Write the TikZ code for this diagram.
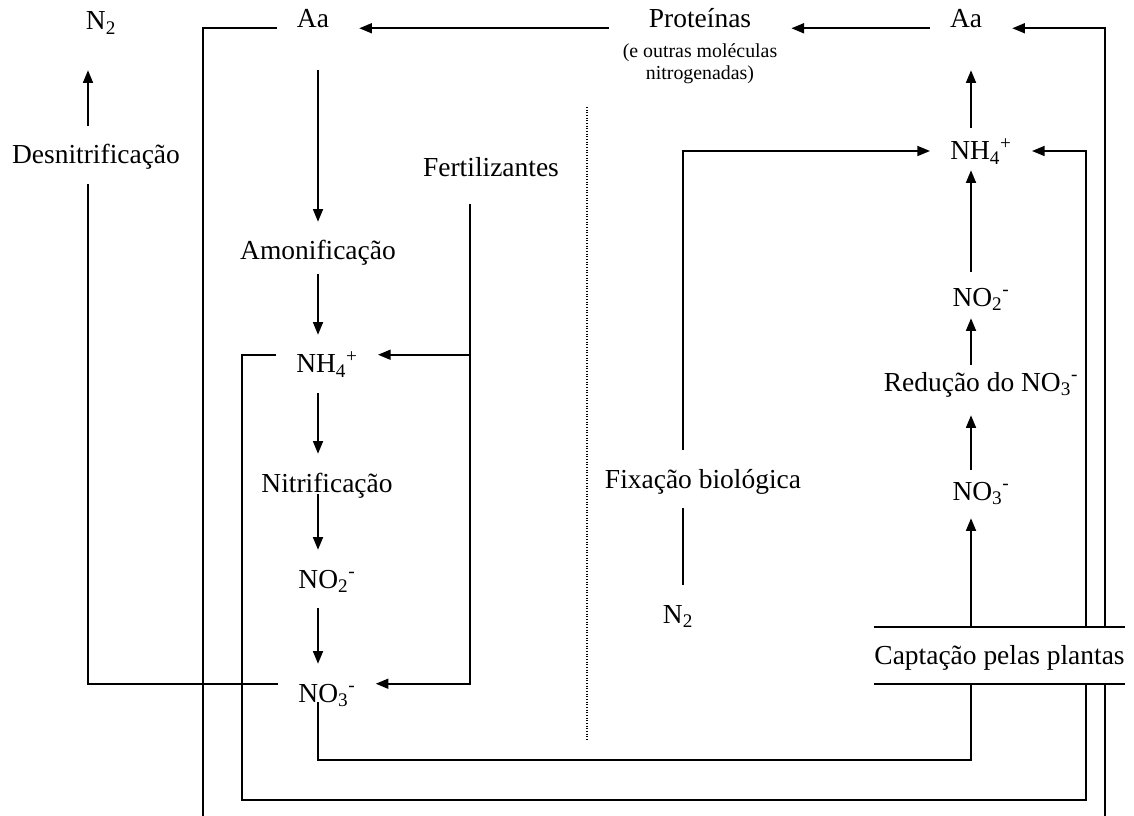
\documentclass[tikz,border=0pt]{standalone}
\usepackage{fontspec}
\setmainfont{Liberation Serif}
\usetikzlibrary{arrows.meta, calc}

\begin{document}
\begin{tikzpicture}[
    x=0.75pt, y=-0.75pt,
    txt/.style={font=\fontsize{20.6}{24}\selectfont, inner sep=0pt, text height=13.5pt, text depth=0pt, anchor=base},
    note/.style={font=\fontsize{14.9}{16.5}\selectfont, inner sep=0pt, align=center, anchor=north},
    uptake/.style={txt, anchor=center, minimum width=188pt, minimum height=42.75pt},
    wire/.style={line width=1.3pt, shorten <=15pt, shorten >=15pt},
    arr/.style={wire, -{Triangle[length=9.5pt, width=7.5pt]}}
]
\useasboundingbox (0,0) rectangle (1134,816);

% columns and bends
\coordinate (colD) at (88,0);
\coordinate (colL) at (318,0);
\coordinate (colF) at (470,0);
\coordinate (colX) at (683,0);
\coordinate (colR) at (971,0);
\coordinate (colU) at (1086,0);
\coordinate (botL) at (203,816);
\coordinate (botR) at (1105,816);
\coordinate (nhbend) at (242,800);
\coordinate (nobend) at (971,760);

% Top row
\node[txt] (n2top) at (101,30) {N\textsubscript{2}};
\node[txt] (aaL) at (313,28) {Aa};
\node[txt, inner xsep=15pt] (prot) at (700,28) {Proteínas};
\node[note] (protnote) at (700,43) {(e outras moléculas\\nitrogenadas)};
\node[txt] (aaR) at (966,28) {Aa};

% Soil side
\node[txt] (desn) at (96,164) {Desnitrificação};
\node[txt] (fert) at (491,177) {Fertilizantes};
\node[txt] (amon) at (318,260) {Amonificação};
\node[txt] (nhL) at (327,373) {NH\textsubscript{4}\textsuperscript{+}};
\node[txt] (nitr) at (327,492) {Nitrificação};
\node[txt] (no2L) at (327,588) {NO\textsubscript{2}\textsuperscript{-}};
\node[txt] (no3L) at (327,702) {NO\textsubscript{3}\textsuperscript{-}};

% Plant side
\node[txt] (fix) at (703,488) {Fixação biológica};
\node[txt] (n2bot) at (678,623) {N\textsubscript{2}};
\node[txt] (nhR) at (981,160) {NH\textsubscript{4}\textsuperscript{+}};
\node[txt] (no2R) at (981,306) {NO\textsubscript{2}\textsuperscript{-}};
\node[txt] (red) at (981,391) {Redução do NO\textsubscript{3}\textsuperscript{-}};
\node[txt] (no3R) at (981,500) {NO\textsubscript{3}\textsuperscript{-}};
\node[uptake] (capt) at (999.5,655.5) {Captação pelas plantas};
\draw[line width=1.3pt] (capt.north west) -- (capt.north east) (capt.south west) -- (capt.south east);

% Top row connections
\draw[arr] (aaR.south west) -- (prot.south east);
\draw[arr, shorten >=22.5pt] (prot.south west) -- (aaL.south east);
\draw[wire, shorten >=0pt] (aaL.south west) -| (botL);
\draw[wire, shorten <=0pt, shorten >=0pt] (botR) -- (botR |- capt.south);
\draw[arr, shorten <=0pt, shorten >=22.5pt] (botR |- capt.north) |- (aaR.south east);

% Mineralisation chain
\draw[arr, shorten <=31.5pt] (aaL.south -| colL) -- (amon.north -| colL);
\draw[arr, shorten <=10pt] (amon.south -| colL) -- (nhL.north -| colL);
\draw[arr] (nhL.south -| colL) -- (nitr.north -| colL);
\draw[arr, shorten <=1.5pt] (nitr.south -| colL) -- (no2L.north -| colL);
\draw[arr] (no2L.south -| colL) -- (no3L.north -| colL);

% Fertilisers
\draw[arr, shorten <=20pt] (fert.south -| colF) |- (no3L.north east);
\draw[arr, shorten <=0pt] (nhL.north -| colF) -- (nhL.north east);

% Denitrification
\draw[wire] (no3L.north west) -| (desn.south -| colD);
\draw[arr, shorten >=30pt] (desn.north -| colD) -- (n2top.south -| colD);

% Uptake loops
\draw[wire, shorten <=0pt, shorten >=0pt] (no3L.south -| colL) |- (nobend) -- (capt.south -| colR);
\draw[wire, shorten >=0pt] (nhL.north west) -| (nhbend) -| (capt.south -| colU);
\draw[arr, shorten <=0pt] (capt.north -| colU) |- (nhR.east);

% Fixation
\draw[wire] (n2bot.north -| colX) -- (fix.south -| colX);
\draw[arr] (fix.north -| colX) |- (nhR.west);

% Assimilation chain
\draw[arr, shorten <=0pt, shorten >=13.5pt] (capt.north -| colR) -- (no3R.south -| colR);
\draw[arr, shorten <=9pt, shorten >=18pt] (no3R.north -| colR) -- (red.south -| colR);
\draw[arr, shorten <=6pt, shorten >=9pt] (red.north -| colR) -- (no2R.south -| colR);
\draw[arr, shorten <=12pt, shorten >=7.5pt] (no2R.north -| colR) -- (nhR.south -| colR);
\draw[arr, shorten <=10.5pt, shorten >=31.5pt] (nhR.north -| colR) -- (aaR.south -| colR);

% separator
\draw[dash pattern=on 0.8pt off 1.2pt, line width=0.8pt] (587,107) -- (587,740);

\end{tikzpicture}
\end{document}
